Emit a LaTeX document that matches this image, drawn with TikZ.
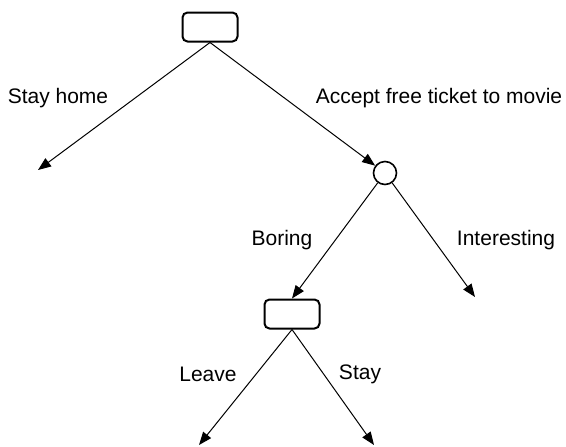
\documentclass[tikz,border=0pt]{standalone}
\usepackage{fontspec}
\setmainfont{Liberation Sans}
\usetikzlibrary{arrows.meta}
\tikzset{
  decision/.style={draw, line width=1pt, rounded corners=2.5pt, minimum width=27.5pt, minimum height=14.5pt, inner sep=0pt},
  chance/.style={draw, circle, line width=0.8pt, minimum size=11.5pt, inner sep=0pt},
  branch/.style={-{Triangle[length=6.5pt,width=5pt]}, line width=0.5pt},
  lbl/.style={font=\fontsize{10.5}{12}\selectfont, inner sep=0pt}
}
\begin{document}
\begin{tikzpicture}[x=0.5pt,y=-0.5pt]
      \useasboundingbox (0,0) rectangle (566,446);
      %Decision and chance nodes
      \node[decision] (d1) at (210,27) {};
      \node[chance] (c1) at (385,173) {};
      \node[decision] (d2) at (292,314) {};
      %Arrow ends
      \coordinate (home) at (38,170);
      \coordinate (inter) at (475,297);
      \coordinate (leave) at (199,445);
      \coordinate (stay) at (374,445);
      %Branches
      \draw[branch] (d1.south) -- (home);
      \draw[branch] (d1.south) -- (c1);
      \draw[branch] (c1) -- (d2.north);
      \draw[branch] (c1) -- (inter);
      \draw[branch] (d2.south) -- (leave);
      \draw[branch] (d2.south) -- (stay);
      %Labels
      \node[lbl] (lhome) at (58,98) {Stay home};
      \node[lbl] (lticket) at (439,98) {Accept free ticket to movie};
      \node[lbl] (lboring) at (282,240) {Boring};
      \node[lbl] (linter) at (506,240) {Interesting};
      \node[lbl] (lleave) at (208,374) {Leave};
      \node[lbl] (lstay) at (360,374) {Stay};
\end{tikzpicture}
\end{document}
